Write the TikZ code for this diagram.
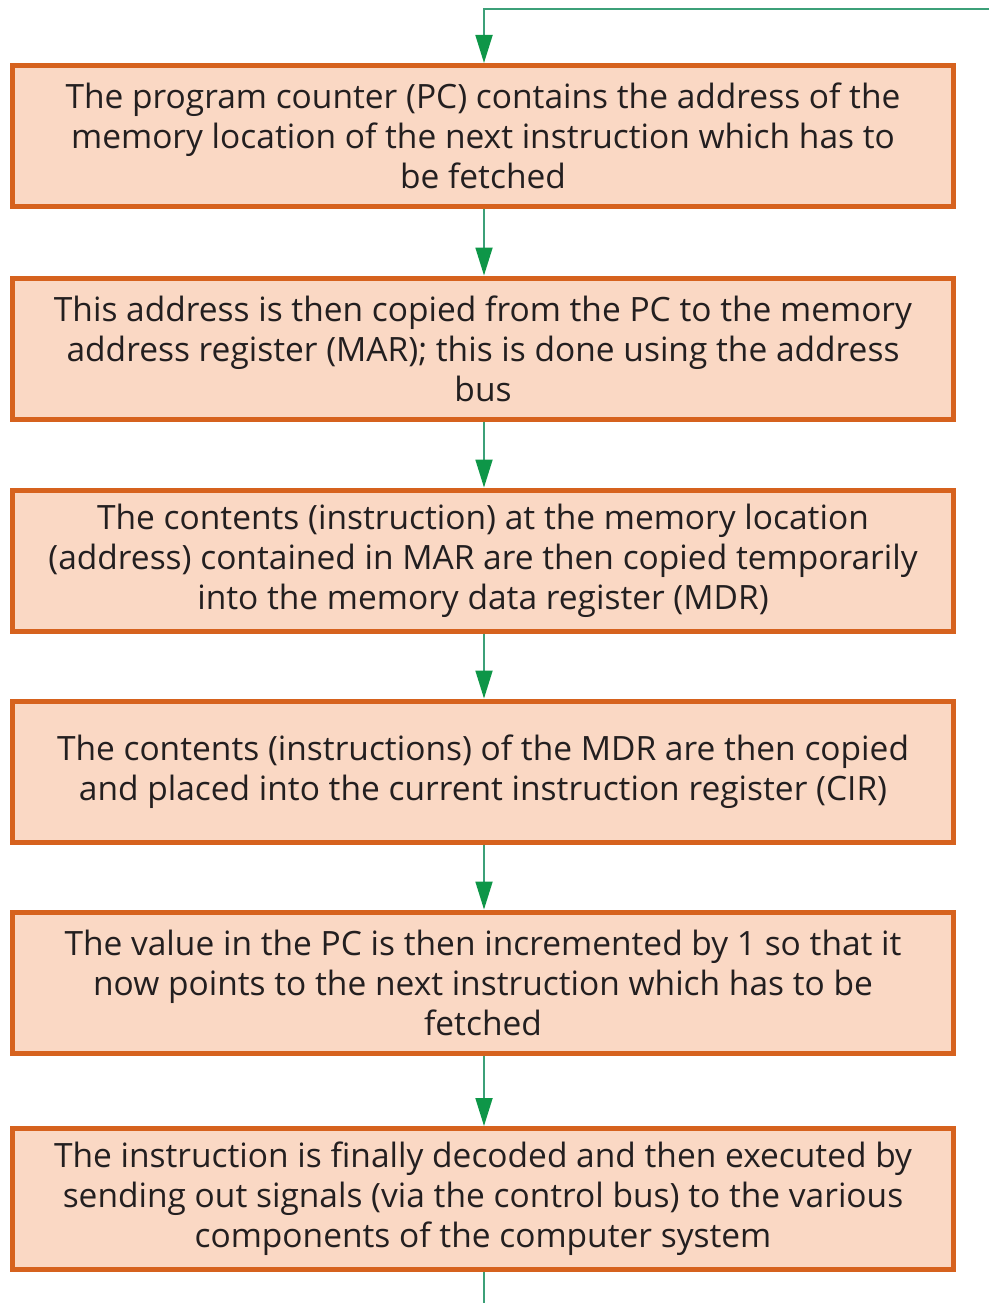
\documentclass[tikz,border=0pt]{standalone}
\usepackage{fontspec}
\setmainfont{Open Sans}
\usetikzlibrary{arrows.meta}
\definecolor{boxfill}{RGB}{250,216,196}
\definecolor{boxline}{RGB}{214,98,30}
\definecolor{flowline}{RGB}{60,160,120}
\definecolor{tipgreen}{RGB}{14,150,72}
\definecolor{txt}{RGB}{35,31,32}
\begin{document}
\begin{tikzpicture}[x=1pt,y=1pt,
  stepbox/.style={draw=boxline, line width=5pt, fill=boxfill, minimum width=941pt, minimum height=141pt, inner sep=0pt, align=center, text=txt, font=\fontsize{33.5}{40}\selectfont},
  flow/.style={draw=flowline, line width=1.8pt, -{Triangle[length=28pt,width=17pt,color=tipgreen]}}]
\useasboundingbox (0,0) rectangle (989,-1303);
\node[stepbox] (b1) at (483,-136) {The program counter (PC) contains the address of the\\memory location of the next instruction which has to\\be fetched};
\node[stepbox] (b2) at (483,-348.5) {This address is then copied from the PC to the memory\\address register (MAR); this is done using the address\\bus};
\node[stepbox] (b3) at (483,-560.5) {The contents (instruction) at the memory location\\(address) contained in MAR are then copied temporarily\\into the memory data register (MDR)};
\node[stepbox] (b4) at (483,-771.5) {The contents (instructions) of the MDR are then copied\\and placed into the current instruction register (CIR)};
\node[stepbox] (b5) at (483,-982.5) {The value in the PC is then incremented by 1 so that it\\now points to the next instruction which has to be\\fetched};
\node[stepbox] (b6) at (483,-1199) {The instruction is finally decoded and then executed by\\sending out signals (via the control bus) to the various\\components of the computer system};
\coordinate (tr) at (989,-9);
\coordinate (tl) at (484,-9);
\coordinate (bot) at (484,-1303);
\draw[flow] (tr) -- (tl) -- ([xshift=1pt]b1.north);
\draw[flow] ([xshift=1pt]b1.south) -- ([xshift=1pt]b2.north);
\draw[flow] ([xshift=1pt]b2.south) -- ([xshift=1pt]b3.north);
\draw[flow] ([xshift=1pt]b3.south) -- ([xshift=1pt]b4.north);
\draw[flow] ([xshift=1pt]b4.south) -- ([xshift=1pt]b5.north);
\draw[flow] ([xshift=1pt]b5.south) -- ([xshift=1pt]b6.north);
\draw[draw=flowline, line width=1.8pt] ([xshift=1pt]b6.south) -- (bot);
\end{tikzpicture}
\end{document}
